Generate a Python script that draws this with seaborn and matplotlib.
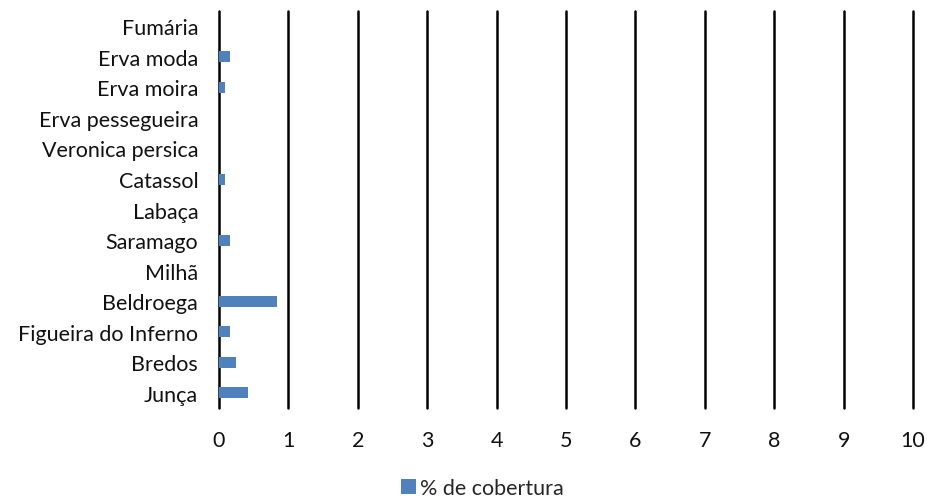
import matplotlib
matplotlib.use("Agg")
import matplotlib.pyplot as plt
import seaborn as sns
import pandas as pd

especies = ["Fumária", "Erva moda", "Erva moira", "Erva pessegueira",
            "Veronica persica", "Catassol", "Labaça", "Saramago", "Milhã",
            "Beldroega", "Figueira do Inferno", "Bredos", "Junça"]
cobertura = [0.0, 0.16, 0.08, 0.0, 0.0, 0.08, 0.0, 0.16, 0.0, 0.83, 0.16, 0.25, 0.42]
serie = "% de cobertura"
xticks = list(range(0, 11))

df = pd.DataFrame({"especie": especies, "valor": cobertura, "serie": serie})

sns.set_theme(style="white")
plt.rcParams["font.family"] = ["Lato", "DejaVu Sans"]

fig = plt.figure(figsize=(9.28, 5.02), dpi=100)
ax = fig.add_axes([0.236, 0.185, 0.748, 0.791])

sns.barplot(data=df, x="valor", y="especie", hue="serie", orient="h",
            palette=["#4f81bd"], saturation=1, width=0.36, linewidth=0,
            ax=ax, legend=True)

ax.set_xlim(0, 10)
ax.set_xticks(xticks)
ax.set_xticklabels([str(t) for t in xticks], fontsize=15.5, color="#111111")
ax.tick_params(axis="x", length=0, pad=16)
ax.tick_params(axis="y", length=0, pad=15, labelsize=15.5, labelcolor="#111111")
ax.set_xlabel("")
ax.set_ylabel("")
for s in ax.spines.values():
    s.set_visible(False)
ax.xaxis.grid(True, color="black", linewidth=1.8)
for gl in ax.get_xgridlines():
    gl.set_clip_on(False)
ax.set_axisbelow(True)

ax.legend(loc="lower center", bbox_to_anchor=(0.52, -0.012),
          bbox_transform=fig.transFigure,
          frameon=False, fontsize=15.5, handlelength=0.7, handleheight=0.7,
          handletextpad=0.2, borderaxespad=0)

fig.savefig("out.png", dpi=100)
